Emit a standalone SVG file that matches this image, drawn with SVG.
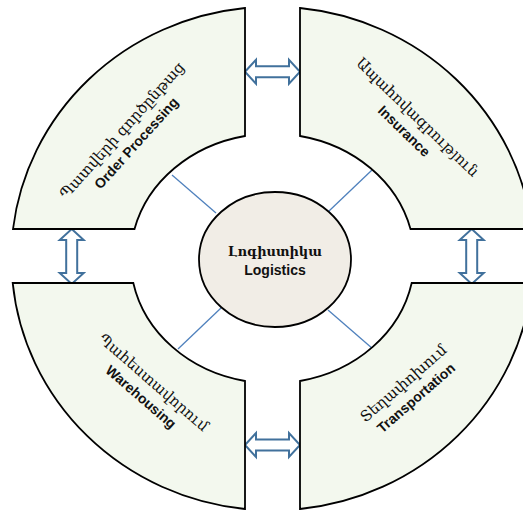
<svg xmlns="http://www.w3.org/2000/svg" xmlns:xlink="http://www.w3.org/1999/xlink" width="523" height="514" viewBox="0 0 523 514">
<style>
.seg{fill:#f3f8ee;stroke:#000;stroke-width:1.8;stroke-linejoin:miter}
.hub{fill:#f1ede6;stroke:#000;stroke-width:1.8}
.conn{stroke:#4f81bd;stroke-width:1.3;fill:none}
.arr{fill:#fff;stroke:#41719c;stroke-width:2;stroke-linejoin:miter}
.hy{font-family:"DejaVu Serif",serif;font-size:15px;fill:#111;text-anchor:middle}
.en{font-family:"Liberation Sans",Arial,sans-serif;font-size:14px;font-weight:bold;fill:#111;text-anchor:middle}
.hyb{font-family:"DejaVu Serif",serif;font-size:13px;font-weight:bold;fill:#111;text-anchor:middle}
</style>
<defs>
<path id="harr" d="M0,0 L11,-12 L11,-5.5 L44,-5.5 L44,-12 L55,0 L44,12 L44,5.5 L11,5.5 L11,12 Z"/>
</defs>
<g id="connectors">
<line class="conn" x1="172" y1="175" x2="216" y2="213"/>
<line class="conn" x1="372" y1="170" x2="329" y2="211"/>
<line class="conn" x1="178" y1="349" x2="221" y2="308"/>
<line class="conn" x1="328" y1="310" x2="373" y2="349"/>
<use class="arr" xlink:href="#harr" transform="translate(245,71.7)"/>
<use class="arr" xlink:href="#harr" transform="translate(245,445)"/>
<use class="arr" xlink:href="#harr" transform="translate(71.7,229) rotate(90)"/>
<use class="arr" xlink:href="#harr" transform="translate(471.7,229) rotate(90)"/>
</g>
<g id="order-processing">
<path class="seg" d="M245,8 L245,136 A142,125 0 0 0 134.5,229 L13,229 A261,252 0 0 1 245,8 Z"/>
<g transform="translate(129.5,137) rotate(-48)">
<text class="hy" x="0" y="-5">Պատվերի գործընթաց</text>
<text class="en" x="0" y="14">Order Processing</text>
</g>
</g>
<g id="insurance">
<path class="seg" d="M300,8 A261,252 0 0 1 532,229 L410.5,229 A142,125 0 0 0 300,136 Z"/>
<g transform="translate(410.5,124.5) rotate(44)">
<text class="hy" x="0" y="-5">Ապահովագրություն</text>
<text class="en" x="0" y="14">Insurance</text>
</g>
</g>
<g id="warehousing">
<path class="seg" d="M12.7,283 L133.3,283 A142,125 0 0 0 245,381 L245,509 A261,252 0 0 1 12.7,283 Z"/>
<g transform="translate(147,390) rotate(41)">
<text class="hy" x="0" y="-5">Պահեստավորում</text>
<text class="en" x="0" y="14">Warehousing</text>
</g>
</g>
<g id="transportation">
<path class="seg" d="M300,381 A142,125 0 0 0 411.7,283 L532,283 A261,252 0 0 1 300,509 Z"/>
<g transform="translate(410,391) rotate(-41)">
<text class="hy" x="0" y="-5">Տեղափոխում</text>
<text class="en" x="0" y="14">Transportation</text>
</g>
</g>
<g id="logistics">
<ellipse class="hub" cx="275" cy="259.5" rx="76" ry="67.5"/>
<text class="hyb" x="275" y="256">Լոգիստիկա</text>
<text class="en" x="275" y="275">Logistics</text>
</g>
</svg>
